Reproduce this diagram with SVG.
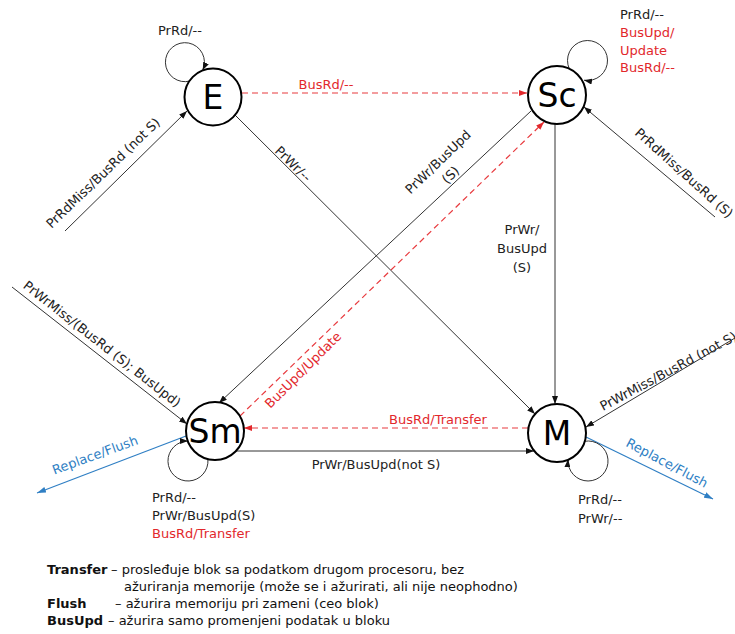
<svg xmlns="http://www.w3.org/2000/svg" width="735" height="634" viewBox="0 0 735 634">
<style>
text { font-family: "DejaVu Sans", Verdana, sans-serif; font-size: 13px; fill: #222; }
.red { fill: #e2282c; }
.blue { fill: #2f7fc4; }
.mid { text-anchor: middle; }
.node circle { fill: #fff; stroke: #000; stroke-width: 2; }
.node text { font-size: 33px; text-anchor: middle; fill: #000; }
.edge { fill: none; stroke: #333; stroke-width: 1; }
.dash { fill: none; stroke: #e83a3e; stroke-width: 1.2; stroke-dasharray: 6 4; }
.bl { fill: none; stroke: #2f7fc4; stroke-width: 1.2; }
.legend { font-size: 13px; fill: #111; }
.b { font-weight: bold; }
</style>
<defs>
<marker id="ak" markerWidth="8" markerHeight="6" refX="8" refY="3" orient="auto" markerUnits="userSpaceOnUse"><path d="M0,0 L8,3 L0,6 z" fill="#111"/></marker>
<marker id="ar" markerWidth="8" markerHeight="6" refX="8" refY="3" orient="auto" markerUnits="userSpaceOnUse"><path d="M0,0 L8,3 L0,6 z" fill="#e2282c"/></marker>
<marker id="ab" markerWidth="9" markerHeight="6" refX="9" refY="3" orient="auto" markerUnits="userSpaceOnUse"><path d="M0,0 L9,3 L0,6 z" fill="#2f7fc4"/></marker>
</defs>
<rect width="735" height="634" fill="#fff"/>

<g id="connectors">
  <!-- E -> Sc -->
  <line class="dash" x1="242" y1="93" x2="527" y2="93" marker-end="url(#ar)"/>
  <!-- E -> M -->
  <line class="edge" x1="235" y1="115" x2="535" y2="414" marker-end="url(#ak)"/>
  <!-- Sc -> Sm -->
  <line class="edge" x1="531" y1="111" x2="219" y2="403" marker-end="url(#ak)"/>
  <!-- Sm -> Sc -->
  <line class="dash" x1="240" y1="416" x2="544" y2="122" marker-end="url(#ar)"/>
  <!-- Sc -> M -->
  <line class="edge" x1="555" y1="124" x2="555" y2="404" marker-end="url(#ak)"/>
  <!-- M -> Sm -->
  <line class="dash" x1="528" y1="428" x2="244" y2="428" marker-end="url(#ar)"/>
  <!-- Sm -> M -->
  <line class="edge" x1="236" y1="451" x2="534" y2="451" marker-end="url(#ak)"/>
  <!-- incoming -->
  <line class="edge" x1="65" y1="231" x2="187" y2="111" marker-end="url(#ak)"/>
  <line class="edge" x1="715" y1="217" x2="584" y2="107" marker-end="url(#ak)"/>
  <line class="edge" x1="12" y1="287" x2="187" y2="424" marker-end="url(#ak)"/>
  <line class="edge" x1="740" y1="335" x2="586" y2="427" marker-end="url(#ak)"/>
  <!-- replace/flush -->
  <line class="bl" x1="186" y1="436" x2="37" y2="493" marker-end="url(#ab)"/>
  <line class="bl" x1="586" y1="437" x2="713" y2="499" marker-end="url(#ab)"/>
  <!-- self loops -->
  <path class="edge" d="M190,81 A19.5,19.5 0 1 1 202.7,70.2" marker-end="url(#ak)"/>
  <path class="edge" d="M569.4,69 A20,20 0 1 1 584,80.2" marker-end="url(#ak)"/>
  <path class="edge" d="M207.9,459.3 A20,20 0 1 1 188,441" marker-end="url(#ak)"/>
  <path class="edge" d="M584.5,441.3 A20,20 0 1 1 568.1,459.3" marker-end="url(#ak)"/>

  <!-- labels -->
  <text class="mid" x="180" y="35">PrRd/--</text>
  <text class="mid red" x="326" y="89">BusRd/--</text>
  <text class="mid" transform="translate(293,164) rotate(44)" y="4.5">PrWr/--</text>
  <text class="mid" transform="translate(103,173) rotate(-44)" y="4.5">PrRdMiss/BusRd (not S)</text>
  <text x="620" y="19">PrRd/--</text>
  <text class="red" x="620" y="37">BusUpd/</text>
  <text class="red" x="620" y="55">Update</text>
  <text class="red" x="620" y="72">BusRd/--</text>
  <g transform="translate(438,162) rotate(-44)">
    <text class="mid" y="4.5">PrWr/BusUpd</text>
    <text class="mid" y="22.5">(S)</text>
  </g>
  <text class="mid" transform="translate(684,173) rotate(42)" y="4.5">PrRdMiss/BusRd (S)</text>
  <text class="mid" x="522" y="234">PrWr/</text>
  <text class="mid" x="522" y="253">BusUpd</text>
  <text class="mid" x="522" y="272">(S)</text>
  <text class="mid red" transform="translate(303,370) rotate(-45)" y="4.5">BusUpd/Update</text>
  <text class="mid" transform="translate(102,344) rotate(38)" y="4.5">PrWrMiss/(BusRd (S); BusUpd)</text>
  <text class="mid blue" transform="translate(95,455) rotate(-20)" y="4.5">Replace/Flush</text>
  <text class="mid red" x="438" y="424">BusRd/Transfer</text>
  <text class="mid" x="376" y="469">PrWr/BusUpd(not S)</text>
  <text transform="translate(603,411) rotate(-28)">PrWrMiss/BusRd (not S)</text>
  <text class="mid blue" transform="translate(667,463) rotate(28)" y="4.5">Replace/Flush</text>
  <text x="152" y="502">PrRd/--</text>
  <text x="152" y="520">PrWr/BusUpd(S)</text>
  <text class="red" x="152" y="538">BusRd/Transfer</text>
  <text x="578" y="504">PrRd/--</text>
  <text x="578" y="523">PrWr/--</text>
</g>

<g id="node-E" class="node"><circle cx="213" cy="97" r="28.5"/><text x="213" y="109">E</text></g>
<g id="node-Sc" class="node"><circle cx="557" cy="95" r="29"/><text x="557" y="107">Sc</text></g>
<g id="node-Sm" class="node"><circle cx="215" cy="431" r="29"/><text x="215" y="443">Sm</text></g>
<g id="node-M" class="node"><circle cx="557" cy="433" r="29"/><text x="557" y="445">M</text></g>

<g id="legend">
  <text class="legend b" x="47" y="574">Transfer</text>
  <text class="legend" x="111" y="574">– prosleđuje blok sa podatkom drugom procesoru, bez</text>
  <text class="legend" x="124" y="591">ažuriranja memorije (može se i ažurirati, ali nije neophodno)</text>
  <text class="legend b" x="47" y="608">Flush</text>
  <text class="legend" x="115" y="608">– ažurira memoriju pri zameni (ceo blok)</text>
  <text class="legend b" x="47" y="625">BusUpd</text>
  <text class="legend" x="108" y="625">– ažurira samo promenjeni podatak u bloku</text>
</g>
</svg>
